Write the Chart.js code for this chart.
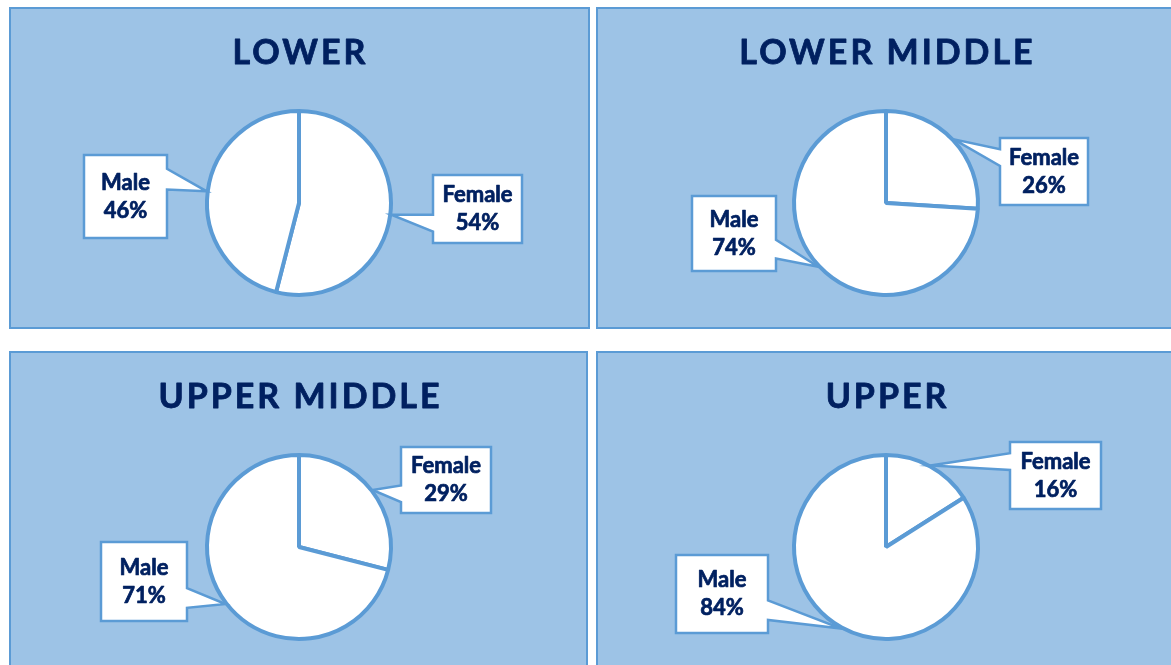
<!DOCTYPE html>
<html>
<head>
<meta charset="utf-8">
<script src="https://cdn.jsdelivr.net/npm/chart.js@4.4.1/dist/chart.umd.min.js"></script>
<style>
  body { margin: 0; background: #fff; width: 1171px; height: 665px; overflow: hidden; position: relative; }
  .panel { position: absolute; box-sizing: border-box; width: 581px; height: 322px;
           background: #9DC3E6; border: 2px solid #5B9BD5; overflow: hidden; }
  .panel canvas { position: absolute; left: 0; top: 0; }
</style>
</head>
<body>
<div class="panel" style="left:9px;top:7px"><canvas id="pie0" width="576" height="316"></canvas></div>
<div class="panel" style="left:596px;top:7px"><canvas id="pie1" width="576" height="316"></canvas></div>
<div class="panel" style="left:9px;top:351px;width:579px"><canvas id="pie2" width="576" height="316"></canvas></div>
<div class="panel" style="left:596px;top:351px"><canvas id="pie3" width="576" height="316"></canvas></div>

<script>
// chart data
const groups = ['LOWER', 'LOWER MIDDLE', 'UPPER MIDDLE', 'UPPER'];
const genders = ['Female', 'Male'];
const femaleShare = [54, 26, 29, 16];
const maleShare = [46, 74, 71, 84];

// callout boxes: offset of the box centre from the pie centre, and box size
const calloutBoxes = [
    [{ dx: 178.5, dy: 6, w: 89, h: 68 }, { dx: -173.5, dy: -6.5, w: 83, h: 83 }],
    [{ dx: 158, dy: -31.5, w: 88, h: 67 }, { dx: -152, dy: 30.5, w: 84, h: 75 }],
    [{ dx: 147, dy: -67, w: 90, h: 66 }, { dx: -155, dy: 34.5, w: 86, h: 79 }],
    [{ dx: 169.5, dy: -71.5, w: 91, h: 67 }, { dx: -164, dy: 47, w: 92, h: 78 }]
];

const NAVY = '#002060';
const BLUE = '#5B9BD5';

// fill + thin stroke so Lato looks as heavy as the original bold face
function heavyText(ctx, text, x, y, weight) {
    ctx.lineWidth = weight;
    ctx.lineJoin = 'round';
    ctx.strokeStyle = NAVY;
    ctx.strokeText(text, x, y);
    ctx.fillText(text, x, y);
}

// panel heading, drawn with letter spacing
const titlePlugin = {
    id: 'panelTitle',
    afterDraw(chart, args, opts) {
        const ctx = chart.ctx;
        ctx.save();
        ctx.font = 'bold 34px Lato';
        ctx.letterSpacing = '3px';
        ctx.fillStyle = NAVY;
        ctx.textAlign = 'center';
        ctx.textBaseline = 'middle';
        heavyText(ctx, opts.text, chart.width / 2 + 1.5, 44, 0.8);
        ctx.restore();
    }
};

// Excel-like rectangular callouts pointing at the middle of each slice
const calloutPlugin = {
    id: 'callouts',
    afterDatasetsDraw(chart, args, opts) {
        const ctx = chart.ctx;
        const meta = chart.getDatasetMeta(0);
        const values = chart.data.datasets[0].data;
        meta.data.forEach((arc, i) => {
            const p = arc.getProps(['x', 'y', 'startAngle', 'endAngle', 'outerRadius'], true);
            const mid = (p.startAngle + p.endAngle) / 2;
            const tx = p.x + Math.cos(mid) * (p.outerRadius + 1);
            const ty = p.y + Math.sin(mid) * (p.outerRadius + 1);
            const b = opts.boxes[i];
            const cx = p.x + b.dx, cy = p.y + b.dy;
            const l = Math.round(cx - b.w / 2), r = Math.round(cx + b.w / 2);
            const t = Math.round(cy - b.h / 2), bt = Math.round(cy + b.h / 2);
            const upper = ty < cy;
            const y1 = t + b.h * (upper ? 2 / 12 : 7 / 12);
            const y2 = t + b.h * (upper ? 5 / 12 : 10 / 12);

            ctx.save();
            ctx.beginPath();
            ctx.moveTo(l, t);
            ctx.lineTo(r, t);
            if (tx > r) { ctx.lineTo(r, y1); ctx.lineTo(tx, ty); ctx.lineTo(r, y2); }
            ctx.lineTo(r, bt);
            ctx.lineTo(l, bt);
            if (tx < l) { ctx.lineTo(l, y2); ctx.lineTo(tx, ty); ctx.lineTo(l, y1); }
            ctx.closePath();
            ctx.fillStyle = '#fff';
            ctx.fill();
            ctx.lineWidth = 2.5;
            ctx.lineJoin = 'miter';
            ctx.strokeStyle = BLUE;
            ctx.stroke();

            ctx.fillStyle = NAVY;
            ctx.font = 'bold 22px Lato';
            ctx.textAlign = 'center';
            ctx.textBaseline = 'middle';
            heavyText(ctx, chart.data.labels[i], cx, cy - 14, 0.7);
            heavyText(ctx, values[i] + '%', cx, cy + 14, 0.7);
            ctx.restore();
        });
    }
};

function buildChart(k) {
    const ctx = document.getElementById('pie' + k).getContext('2d');
    return new Chart(ctx, {
        type: 'pie',
        data: {
            labels: genders,
            datasets: [{
                data: [femaleShare[k], maleShare[k]],
                backgroundColor: '#ffffff',
                borderColor: BLUE,
                borderWidth: 4
            }]
        },
        options: {
            responsive: false,
            animation: false,
            layout: { padding: { left: 194, right: 194, top: 100, bottom: 28 } },
            plugins: {
                legend: { display: false },
                tooltip: { enabled: false },
                panelTitle: { text: groups[k] },
                callouts: { boxes: calloutBoxes[k] }
            }
        },
        plugins: [calloutPlugin, titlePlugin]
    });
}

document.fonts.load('bold 22px Lato').then(() => {
    for (let k = 0; k < groups.length; k++) buildChart(k);
});
</script>
</body>
</html>
